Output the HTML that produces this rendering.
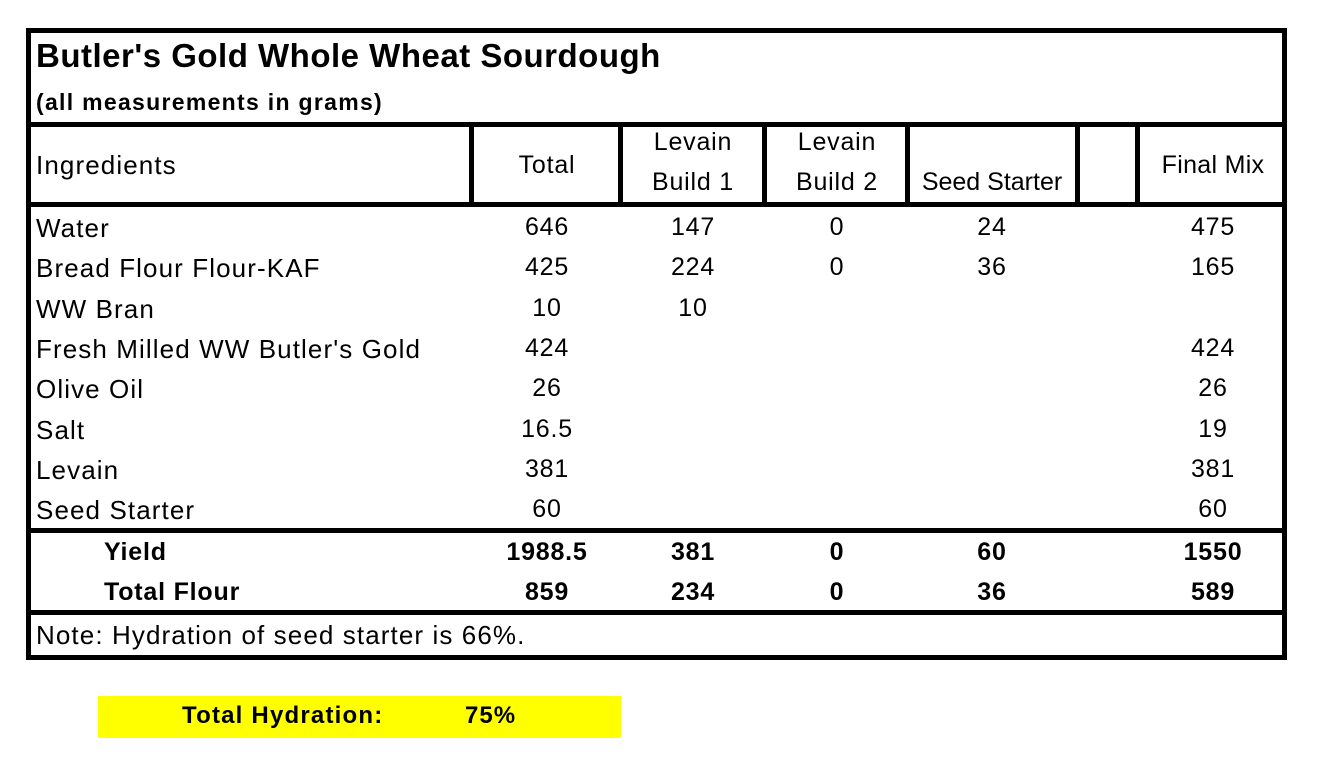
<!DOCTYPE html>
<html><head><meta charset="utf-8"><style>
body{margin:0;width:1329px;height:777px;background:#fff;position:relative;font-family:"Liberation Sans",sans-serif;color:#000;overflow:hidden}
.a{position:absolute;white-space:nowrap}
.l{position:absolute;background:#000}
.c{position:absolute;text-align:center;width:200px;font-size:25px;white-space:nowrap;letter-spacing:0.8px}
.t{position:absolute;left:36px;font-size:26px;white-space:nowrap;letter-spacing:1.1px}
</style></head><body>
<div class="l" style="left:26px;top:28px;width:1261px;height:5px"></div>
<div class="l" style="left:26px;top:655px;width:1261px;height:5px"></div>
<div class="l" style="left:26px;top:28px;width:5px;height:632px"></div>
<div class="l" style="left:1282px;top:28px;width:5px;height:632px"></div>
<div class="l" style="left:26px;top:122px;width:1261px;height:5px"></div>
<div class="l" style="left:26px;top:202px;width:1261px;height:5px"></div>
<div class="l" style="left:26px;top:528px;width:1261px;height:5px"></div>
<div class="l" style="left:26px;top:610px;width:1261px;height:5px"></div>
<div class="l" style="left:469px;top:122px;width:5px;height:85px"></div>
<div class="l" style="left:618px;top:122px;width:5px;height:85px"></div>
<div class="l" style="left:762px;top:122px;width:5px;height:85px"></div>
<div class="l" style="left:905px;top:122px;width:5px;height:85px"></div>
<div class="l" style="left:1075px;top:122px;width:5px;height:85px"></div>
<div class="l" style="left:1135px;top:122px;width:5px;height:85px"></div>

<div class="a" style="left:36px;top:37px;font-size:33px;font-weight:bold;letter-spacing:0.5px">Butler's Gold Whole Wheat Sourdough</div>
<div class="a" style="left:36px;top:89px;font-size:23px;font-weight:bold;letter-spacing:1.3px">(all measurements in grams)</div>

<div class="t" style="top:150px">Ingredients</div>
<div class="c" style="left:447px;top:151px">Total</div>
<div class="c" style="left:593px;top:128px">Levain</div>
<div class="c" style="left:593px;top:168px">Build 1</div>
<div class="c" style="left:737px;top:128px">Levain</div>
<div class="c" style="left:737px;top:168px">Build 2</div>
<div class="c" style="left:892px;top:168px;letter-spacing:0">Seed Starter</div>
<div class="c" style="left:1113px;top:151px;letter-spacing:0.3px">Final Mix</div>

<div class="t" style="top:213px">Water</div>
<div class="c" style="left:447px;top:213px">646</div><div class="c" style="left:593px;top:213px">147</div><div class="c" style="left:737px;top:213px">0</div><div class="c" style="left:892px;top:213px">24</div><div class="c" style="left:1113px;top:213px">475</div>
<div class="t" style="top:253px">Bread Flour Flour-KAF</div>
<div class="c" style="left:447px;top:253px">425</div><div class="c" style="left:593px;top:253px">224</div><div class="c" style="left:737px;top:253px">0</div><div class="c" style="left:892px;top:253px">36</div><div class="c" style="left:1113px;top:253px">165</div>
<div class="t" style="top:294px">WW Bran</div>
<div class="c" style="left:447px;top:294px">10</div><div class="c" style="left:593px;top:294px">10</div>
<div class="t" style="top:334px">Fresh Milled WW Butler's Gold</div>
<div class="c" style="left:447px;top:334px">424</div><div class="c" style="left:1113px;top:334px">424</div>
<div class="t" style="top:374px">Olive Oil</div>
<div class="c" style="left:447px;top:374px">26</div><div class="c" style="left:1113px;top:374px">26</div>
<div class="t" style="top:415px">Salt</div>
<div class="c" style="left:447px;top:415px">16.5</div><div class="c" style="left:1113px;top:415px">19</div>
<div class="t" style="top:455px">Levain</div>
<div class="c" style="left:447px;top:455px">381</div><div class="c" style="left:1113px;top:455px">381</div>
<div class="t" style="top:495px">Seed Starter</div>
<div class="c" style="left:447px;top:495px">60</div><div class="c" style="left:1113px;top:495px">60</div>

<div class="t" style="left:104px;top:538px;font-weight:bold;font-size:25px;letter-spacing:0.8px">Yield</div>
<div class="c" style="left:447px;top:538px;font-weight:bold">1988.5</div><div class="c" style="left:593px;top:538px;font-weight:bold">381</div><div class="c" style="left:737px;top:538px;font-weight:bold">0</div><div class="c" style="left:892px;top:538px;font-weight:bold">60</div><div class="c" style="left:1113px;top:538px;font-weight:bold">1550</div>
<div class="t" style="left:104px;top:578px;font-weight:bold;font-size:25px;letter-spacing:0.8px">Total Flour</div>
<div class="c" style="left:447px;top:578px;font-weight:bold">859</div><div class="c" style="left:593px;top:578px;font-weight:bold">234</div><div class="c" style="left:737px;top:578px;font-weight:bold">0</div><div class="c" style="left:892px;top:578px;font-weight:bold">36</div><div class="c" style="left:1113px;top:578px;font-weight:bold">589</div>

<div class="t" style="top:620px">Note: Hydration of seed starter is 66%.</div>

<div class="a" style="left:98px;top:696px;width:523px;height:42px;background:#ffff00"></div>
<div class="a" style="left:182px;top:702px;font-size:24px;font-weight:bold;letter-spacing:1.2px">Total Hydration:</div>
<div class="a" style="left:465px;top:702px;font-size:24px;font-weight:bold;letter-spacing:1px">75%</div>
</body></html>
